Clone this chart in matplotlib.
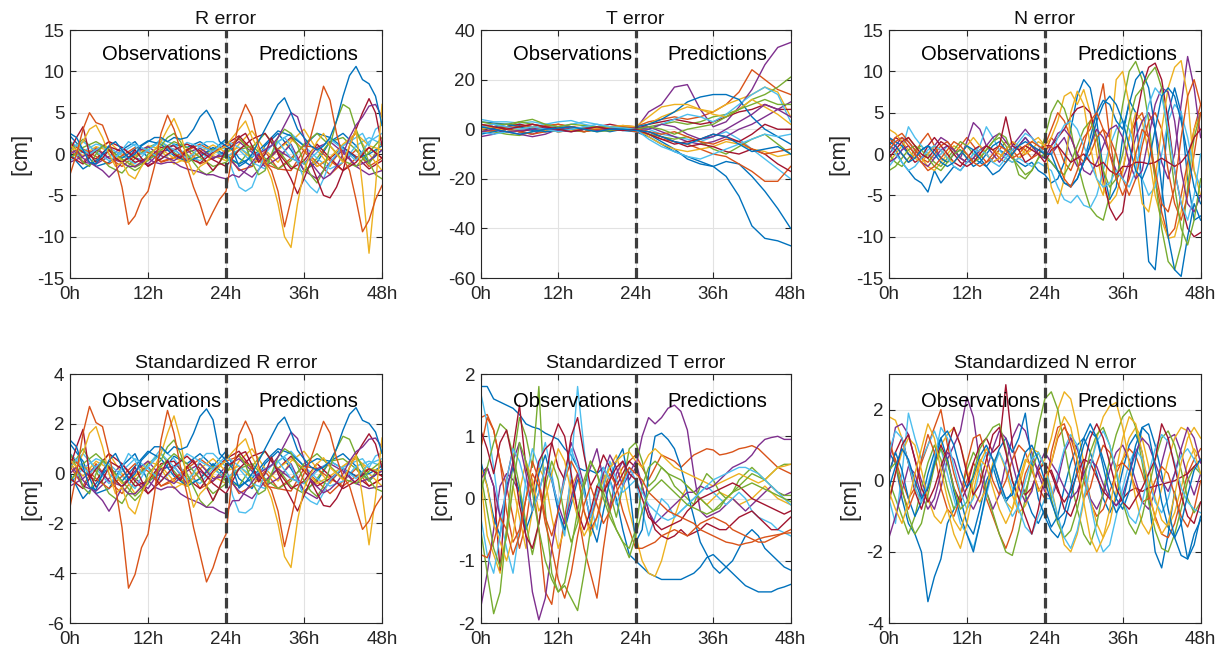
import numpy as np
import matplotlib
matplotlib.use("Agg")
import matplotlib.pyplot as plt

plt.rcParams['font.family'] = ['Liberation Sans', 'DejaVu Sans']
plt.rcParams['axes.unicode_minus'] = False

# ---------------- common axes data ----------------
HOURS_1H = list(range(0, 49))
HOURS_2H = list(range(0, 49, 2))
TICK_HOURS = [0, 12, 24, 36, 48]
TICK_LABELS = ["0h", "12h", "24h", "36h", "48h"]
SPLIT_HOUR = 24
PALETTE = {'blue': '#0072BD', 'orange': '#D95319', 'yellow': '#EDB120', 'purple': '#7E2F8E',
           'green': '#77AC30', 'cyan': '#4DBEEE', 'darkred': '#A2142F'}
CYCLE = ['blue', 'orange', 'yellow', 'purple', 'green', 'cyan', 'darkred']

# ---------------- R error (hourly, salient) ----------------
R_BLUE = [2.5,2,0.5,-1,-1.2,0,1,1.5,0.5,-0.5,0,1,1.5,2,2,1.5,2,1.8,2,3,4.5,5.3,4,1.5,1,0.5,-1.5,-1,0,1.5,3,4.5,6,6.8,5,3,2,1,0.5,1,2,4,7,9.5,10.6,9,8.5,7,3.5]
R_ORANGE = [-2.5,0,3,5,3.8,3.5,1.5,-1,-4,-8.5,-7.5,-5.5,-4.5,-1.5,2.5,4.7,3,0.5,-1.5,-4,-6,-8.6,-7,-5.5,-4.5,0,4,6,4.5,1,-1,-2,-4.5,-8.8,-5.5,-2,0,2,5,8.2,6.5,2.5,-0.5,-2,-5.5,-9.4,-8,-5.5,-3.8]
R_YELLOW = [1,0.5,1.5,3,3.5,2,0,-1.5,-1,-2.5,-3,-1.5,-0.5,0.5,1.5,3,4.3,2.5,-0.5,-2.5,-1.5,-1,0,0.5,1,2,3,4,2,0.5,-1,-3,-6,-10,-11.3,-6,-2,0,1.5,2.5,1,0,-1,1,3,-4,-12,-4,6]
R_PURPLE = [0,0.5,-0.5,-1,-1.5,-2,-2.8,-2,-1,-1.5,-1.5,-1,-0.5,-1,-1.2,-1,-1,-1.5,-1.8,-2,-2.2,-2.5,-2.5,-2.8,-3,-2.5,-2.8,-2,-1,0,0.5,1,2,3.5,5,4.5,2,-1,-2,-3,-2.5,-1.5,0,2,3.5,4.5,5.8,6,4.5]
R_DARKRED = [0.5,2,3.3,0,-1,-0.5,0.5,-0.5,-1,-0.5,0.5,-0.5,-1.5,-1,0,1,0,-0.5,0.5,1,0,-1,-2,-1,0.5,1,2,2.5,1,-1,0,2,0,-1.5,-3,-4.8,-3,-1,-3,-5,-5.3,-4,-2,1,3,5,6.7,5,1]
R_GREEN = [1.5,0.5,-1,-1.5,0,1,0.5,-0.5,-1,-1.5,-2,-1.5,0,0.5,1,2,2.5,1.5,0,-1,-2,-2.5,-2,-1,0,1,2,1,-1,-2.5,-2,0,2,3,2.5,1,-1,-2.5,-3.5,-2,1,4,6,5.5,3,1,-1,-2.5,-3]
R_CYAN = [1.5,1,0.5,0,0.5,1,0,-0.5,0.5,1.5,1,0,0.5,1,1.5,1,0.5,0,-0.5,0,1,1.5,1.5,1,0.5,-2,-4,-4.5,-4,-2,0,1,1.5,2,1,-1,-3,-4,-4.7,-3,-1,0,1,1.5,2,2.5,1,3,3.5]
# R error (2-hourly, bulk)
R_B01 = [2.2,0.5,-1.5,-1,0.5,1.5,-0.5,0,1.2,0.8,1.5,0.5,1.8,-0.5,-1.5,1,2.5,0.5,-2,-1,1.5,2.5,1,-1,0.5]
R_B02 = [0.5,-1,0.8,-0.5,-1.5,-0.2,0.5,-1,-0.5,0.6,-1.2,-0.5,0.2,-2,-1.5,0.3,-1.8,-2,0.5,-1,-2.5,-1,0.5,-1.5,-0.5]
R_B03 = [-0.5,0.5,0.2,1.5,0,-1.5,-0.3,0.4,-1.2,-0.5,0.7,-0.2,-0.8,1.2,2.8,0.5,-1,1.5,3,0.5,-1.5,1,2.5,0,-2]
R_B04 = [1,-1,-1.2,-0.3,0.8,-0.4,-1.2,0.3,0.6,-0.8,0.2,-0.6,0.5,1.5,0.2,-1.5,-0.5,1.2,-2,-3,-1,0.5,-1.5,-2.5,-2]
R_B05 = [0.3,1.8,0.2,-1.5,-2.3,-0.5,0.8,1.5,0.2,-1,-0.3,0.6,-0.5,-1.2,0.8,2.5,0.5,-1.5,-2.2,-0.5,1.5,2,0.5,-1.2,1.5]
R_B06 = [-0.8,0.3,1.2,0.8,-0.2,-1.2,0.5,1.8,1.2,-0.2,-0.8,0.4,-0.3,0.5,-1,-1.8,1.5,2.5,1,-0.5,-1.8,-1,1,2,1.2]
R_B07 = [1.5,0.2,-0.6,0.9,0.3,-1,-0.5,0.8,1,-0.4,-1.1,0.2,1.2,2.2,0.5,-0.8,0.6,2,0.4,-1.5,-0.5,0.8,-0.3,-1.8,-0.8]
R_B08 = [0,-1.8,-0.8,0.5,-0.5,0.6,1.6,1.2,-0.2,-0.9,-0.3,0.8,-0.2,-1.2,-0.4,1.2,2.8,2.2,1,2.5,2,0.8,-0.5,0,1]
R_B09 = [1.2,0.6,-0.3,-1.2,-0.2,0.8,0.2,-0.9,-0.4,0.4,1.2,0.3,0.9,1.8,0.6,-1.2,-1.8,-0.5,1,0.8,-0.8,-2,-0.5,0.8,-0.5]
R_B10 = [0.8,-0.2,0.9,0.4,-0.8,-0.2,1,0.6,-0.5,-1,0.3,1.1,0.2,0.8,-0.6,-1.2,0.5,1.8,0.5,-1.5,-0.4,1.2,2.5,1,0.5]
R_B11 = [-1,-0.3,0.6,-0.5,-1,0.2,0.9,-0.2,-0.8,0.2,0.7,-0.4,-0.2,-1.8,-2.8,-1,0.5,-0.5,-1.2,0.8,1.5,0.2,-1.5,-0.8,0.5]
R_B12 = [-0.5,0.8,1.5,0.6,-0.6,-1.6,-0.8,0.5,1.5,0.8,-0.4,-1.5,-1,0.5,1,-0.5,-1.8,-0.8,1.2,2.5,1,-0.8,-1.5,0.2,2]
R_B13 = [0.6,1.5,0.3,-0.8,0.2,1.2,0.4,-0.6,0.3,1.4,0.9,0.3,1.6,0.8,-0.3,0.6,1.5,-0.5,-1.2,0.2,1.8,0.6,-0.8,1.5,2.5]
R_B14 = [-0.3,-1.2,0.4,1.5,0.8,-0.5,-1.4,-0.6,0.5,1.2,0.4,-0.7,-1.5,0.5,1.8,2.5,0.2,-1.8,-0.8,1.2,-0.5,-2,-1,0.8,-0.5]

# ---------------- T error (2-hourly) ----------------
T_L01 = [3,2.5,2,1.5,1,0.5,1,0.5,0,-0.5,0,-0.5,-1,-3,-6,-9,-11,-13,-15,-19,-27,-39,-44,-45,-47]
T_L02 = [1,2,0.5,-1,0,1.5,2,1,0,1,0.5,1.5,1,3,4,5,4,5,7,10,15,24,20,16,14]
T_L03 = [-1,0,1,2,0.5,-0.5,1,0,-1,0,1,0.5,1,2,5,7,9,8,7,10,12,14,17,15,5]
T_L04 = [-3,-2,0,-1,-2,0,1,0,-1,0,0.5,1,0,7,10,17,18,8,1,3,9,16,26,33,35]
T_L05 = [0,-1,-2,-2.5,-1,0,-1,-0.5,-1,0,-0.5,0,0.5,1,2,3,2,3,5,6,8,12,14,17,21]
T_L06 = [4,3,3,2.5,3,2,3,3.5,2,1,1,1,0.5,0,-2,-3,-4,-5,-3,-1,-4,-8,-12,-16,-20]
T_L07 = [2,1,0,-1,0,1,0.5,1,0,1,2,1,0,2,3,4,3,2,3,5,7,8,10,8,8]
T_L08 = [-2,-1,0,1,-0.5,-1,0,-0.5,1,0,-1,0,0.5,-2,-5,-8,-12,-14,-15,-13,-14,-19,-25,-32,-40]
T_L09 = [0,1,0,-1,-2,-1,-0.5,0,-1,0,-0.5,0,-1,-2,-4,-5,-6,-8,-10,-11,-14,-17,-21,-21,-15]
T_L10 = [2,1,2,1,0,-1,0,1,0,-0.5,0,0,1,-3,-6,-8,-9,-8,-7,-5,-6,-8,-9,-11,-10]
T_L11 = [1,0,-1,-2,-3,-2,0,1,0,-0.5,0,0.5,0.5,1,-1,-3,-5,-6,-5,-3,0,2,5,8,11]
T_L12 = [1,0.5,1,3,2,1,0,-0.5,0,-1,-0.5,0,0,-2,-3,-4,-3,-5,-8,-10,-7,-4,-2,-6,-10]
T_L13 = [-1,-2,-1,0,1,2,1,2,3,2,1,0.5,0,0,2,4,6,5,3,6,10,14,17,14,3]
T_L14 = [0,0.5,1,2,1,0,-1,-0.5,0,1,1,0.5,0,-1,-3,-5,-7,-6,-7,-9,-10,-8,-10,-14,-17]
T_L15 = [0,1,2,1,0,-1,-0.5,0,0.5,1,0,0.5,1,2,4,7,11,13,14,14,12,5,0,-3,-6]
T_L16 = [-1,-0.5,0.5,1,2,1,2,1,0.5,0,0.5,1,0.5,-1,-2,-1,-3,-5,-6,-4,-5,-8,-10,-9,-8]
T_L17 = [0,1,-1,0,1,0,-1,-0.5,0,0.5,1,1.5,1,5,9,10,10,8,6,5,8,12,9,6,2]
T_L18 = [-1,0,-1,-0.5,0,0.5,-0.5,-1,0,1,0,0,0.5,0,2,1,-2,-4,-3,0,3,6,10,8,5]
T_L19 = [3,2,2,3,4,2,1,2,1.5,1,1,0.5,0,1,0,-2,0,1,2,5,8,10,12,10,10]
T_L20 = [1,2,1,0,1,0,-1,0,1,2,1,0.5,0,-4,-7,-9,-11,-12,-10,-8,-6,-4,-2,-3,-2]
T_L21 = [2,1,0,1,2,1,0,-1,0,1,0,-0.5,0,-2,-4,-6,-5,-4,-2,-3,-5,-2,2,0,0]
T_L22 = [1,0,-1,-2,-1,0,0.5,1,0,-1,0,0,-0.5,-1,-3,-5,-6,-4,-2,-3,-6,-9,-8,-7,-10]

# ---------------- N error (hourly) ----------------
N_L01 = [1,0.5,-1,-2,-3,-3.5,-4.6,-2,-3.5,-2.5,-1.5,-2,-1,-0.5,-1,-1.5,-0.5,0.5,0,-0.5,-1,-1.5,-1,-2,-2.5,-3.5,-3,-1,3,7,9,8,4,-2,-5.5,-4,2,6.5,5,-4,-13,-14,-6,5,8,5,-3,-8,-7.5]
N_L02 = [2,1.5,1,0,-0.5,0.5,1,0.5,-0.5,-1,0,0.5,-0.5,-1.5,-1,0,1,1.5,0.5,0,1,2,1,0,-0.5,-1,-2,-3.5,-4,-3,-1,2,5,6.5,6,4,3,6,9,10,8,3,-4,-10,-14,-14.8,-10,-6,-8]
N_L03 = [0,-1,-1.5,-0.5,0.5,1,0,-1,-1.5,-0.5,0.5,1.5,1,0,-0.5,0.5,1.5,2,1,-0.5,-1.5,-2.5,-2,-0.5,2,5,6.5,5.5,3,-1,-4,-6.5,-7.5,-8,-5,1,6,10,11.2,9,4,-3,-9,-13,-14,-11,-4,2,5]
N_L04 = [3,2.5,1.5,0.5,-0.5,-1,0,1,0.5,-0.5,-1,0,1,2,1,0,-1,-0.5,0.5,1.5,1,0,0.5,1.5,1,-4,-6,-3,5,7.6,6,1,-3,-5,1,9,10,6,-1,-6,-7,-3,3,8,10.5,11.3,7,-2,-5]
N_L05 = [-1,0,1,2,1,-0.5,-1.5,-2,-1,0,1,0.5,-0.5,-1,0,1,0.5,0,-0.5,-1,-0.5,0.5,1.5,2,1,2,4,7,7.5,6,7.8,5,0,-4,-6,-5,-2,2,5,4,0,-5,-8,-10.2,-10,-7,-2,3,5]
N_L06 = [2,1,0,-1,0,1.5,2.5,1,-0.5,-1,0,1,2,1,0,-1,-0.5,0.5,1.5,0.5,-0.5,0,1,0.5,0,2,1,-1,-2,0,2,3,5,8.5,2,-3,-2,2,4,5,2,-3,-7,-10,-9,-5,-1,3,6]
N_L07 = [1,2,1.5,0,-1,-0.5,1,2,1,0,-1,-1.5,-0.5,0.5,1,0,-1,-0.5,0.5,1.5,0.5,-1,-0.5,0.5,1,1,2,3,4.5,5.5,5.8,5,2,-3,-6.5,-8,-7,-2,4,8,10.5,11,9,4,-2,-6,-9,-10,-9.5]
N_L08 = [0,1,2,1.5,0.5,-0.5,0,1,2,1.5,0.5,-0.5,1.5,3.8,3,1,0,-1,0,1,2,3,2,1,0,0,1,2,0,-1.5,-1,1,3,2,0,-2,-3,-1,2,4,5,3,-1,-3,0,6,11.8,8,2]
N_L09 = [-1,-0.5,0.5,1,0,-1,-1.5,-0.5,0.5,1,0.5,-0.5,-1,-0.5,0.5,1,2,2.5,1.5,0.5,1,2,1,0,-0.5,1,2.5,3,2,0,-2,-2.5,-1,1,3,3.5,2,-1,-3,-2,2,6,8,7.5,4,-2,-6,-7,-5]
N_L10 = [-1.5,-0.5,0.5,3.3,2,1,0,-0.5,0,1,0.5,-0.5,-1,0,1,3.3,2,0.5,-0.5,-1,-0.5,-1,-1.5,-1,-1.5,-2,-4,-5.5,-5.9,-5,-6.2,-6.5,-5,-2,1,3,4,3,0,-3,-5,-4,0,4,6,5,2,-2,-4]
N_L11 = [1,0,-1,-2,-1.5,-0.5,0.5,1,0.5,-0.5,-1.5,-2,-1,0,0.5,0,-1,-1.5,-0.5,0.5,1.5,2.5,2,1,0,0,2,3.5,4,3,1,-1,-3,-4,-3.5,-2,-3,-4,-2,2,6,8,7,3,-2,-6,-8,-5,0]
N_L12 = [-2,-1.5,-0.5,0.5,1,0.5,-0.5,-1.5,-2,-1,0,0.5,0,-1,-0.5,0.5,1.5,2.5,2,0,-2.5,-3,-2,-0.5,0,-1,-2,-2.5,-1,1,3,4,2,-2,-4,-3,0,4,7,8,9.5,10.5,8,2,-4,-9,-11,-8,-3]
N_L13 = [1,2,2.5,1.5,0.5,-0.5,-1,0,1,1.5,0.5,-0.5,-1,-0.5,0.5,1,0.5,-0.5,-1,0,1,0.5,-0.5,0,1,3,5,4,2,0,-1,0,2,3,2,0,-3,-5,-3,1,4,5,3,-2,-6,-8,-5,0,5]
N_L14 = [-0.5,0.5,1.5,2,1,0,-0.5,0.5,1.5,1,0,-1,-1.5,-1,0,1,0.5,1,4.5,1,0.5,1,0.5,0,-1,0.5,1,0,-1,-0.5,0,-1,-1.5,-1,-2,-2.5,-1.5,-1.5,-1,-1,-1.2,-1,-0.5,-1,-1.5,-1,0,2,3]
N_L15 = [1.5,1,0,-1,-0.5,0.5,1,0,-1,-1.5,-1,0,1,0.5,-0.5,-1.5,-2.5,-2,-1,0,1,1.5,1,0.5,0,0,-2,-3.5,-3.8,-3,-1,1,4,6,7,6,4,1,-2,-3,-1,3,7,8,7,4,0,-4,-6]
N_L16 = [0.5,1.5,2,1,0,-1,-2,-1.5,-0.5,0.5,1.5,1,0,-1,-1.5,-1,0,1,0.5,-0.5,0,1,1.5,1,0.5,1,-1,-3,-4,-2,1,4,5,3,0,-3,-5,-3,0,3,2,-2,-6,-7,-4,2,7,9,6]

# ---------------- Standardized R error ----------------
SR_BLUE = [1.35,1.08,0.27,-0.54,-0.65,0,0.54,0.81,0.27,-0.27,0,0.54,0.81,1.08,1.08,0.81,1.08,0.97,1.08,1.62,2.3,2.6,2.16,0.81,0.54,0.22,-0.58,-0.35,0,0.5,1,1.5,2,2.27,1.67,0.94,0.59,0.28,0.13,0.26,0.5,1,1.75,2.38,2.65,2.14,2.02,1.67,0.83]
SR_ORANGE = [-1.35,0,1.62,2.7,2.05,1.89,0.81,-0.54,-2.16,-4.6,-4.05,-2.97,-2.43,-0.81,1.35,2.54,1.62,0.27,-0.81,-2.16,-3.24,-4.35,-3.78,-2.97,-2.43,0,1.54,2.11,1.55,0.33,-0.33,-0.67,-1.5,-2.93,-1.83,-0.63,0,0.56,1.32,2.1,1.63,0.63,-0.13,-0.5,-1.38,-2.24,-1.9,-1.31,-0.9]
SR_YELLOW = [0.54,0.27,0.81,1.62,1.89,1.08,0,-0.81,-0.54,-1.35,-1.62,-0.81,-0.27,0.27,0.81,1.62,2.32,1.35,-0.27,-1.35,-0.81,-0.54,0,0.27,0.54,0.87,1.15,1.4,0.69,0.17,-0.33,-1,-2,-3.33,-3.77,-1.88,-0.59,0,0.39,0.64,0.25,0,-0.25,0.25,0.75,-0.95,-2.86,-0.95,1.43]
SR_PURPLE = [0,0.27,-0.27,-0.54,-0.81,-1.08,-1.51,-1.08,-0.54,-0.81,-0.81,-0.54,-0.27,-0.54,-0.65,-0.54,-0.54,-0.81,-0.97,-1.08,-1.19,-1.35,-1.35,-1.51,-1.62,-1.09,-1.08,-0.7,-0.34,0,0.17,0.33,0.67,1.17,1.67,1.41,0.59,-0.28,-0.53,-0.77,-0.63,-0.38,0,0.5,0.88,1.07,1.38,1.43,1.07]
SR_DARKRED = [0.27,1.08,1.78,0,-0.54,-0.27,0.27,-0.27,-0.54,-0.27,0.27,-0.27,-0.81,-0.54,0,0.54,0,-0.27,0.27,0.54,0,-0.54,-1.08,-0.54,0.27,0.43,0.77,0.88,0.34,-0.33,0,0.67,0,-0.5,-1,-1.5,-0.88,-0.28,-0.79,-1.28,-1.33,-1,-0.5,0.25,0.75,1.19,1.6,1.19,0.24]
SR_GREEN = [0.81,0.27,-0.54,-0.81,0,0.54,0.27,-0.27,-0.54,-0.81,-1.08,-0.81,0,0.27,0.54,1.08,1.35,0.81,0,-0.54,-1.08,-1.35,-1.08,-0.54,0,0.43,0.77,0.35,-0.34,-0.83,-0.67,0,0.67,1,0.83,0.31,-0.29,-0.69,-0.92,-0.51,0.25,1,1.5,1.38,0.75,0.24,-0.24,-0.6,-0.71]
SR_CYAN = [0.81,0.54,0.27,0,0.27,0.54,0,-0.27,0.27,0.81,0.54,0,0.27,0.54,0.81,0.54,0.27,0,-0.27,0,0.54,0.81,0.81,0.54,0.27,-0.87,-1.54,-1.58,-1.38,-0.67,0,0.33,0.5,0.67,0.33,-0.31,-0.88,-1.11,-1.24,-0.77,-0.25,0,0.25,0.38,0.5,0.6,0.24,0.71,0.83]
SR_B01 = [1.2,0.5,-0.8,-0.6,0.3,0.8,-0.3,0,0.7,0.4,0.8,0.3,0.9,-0.2,-0.6,0.4,0.9,0.2,-0.7,-0.3,0.5,0.8,0.3,-0.3,0.2]
SR_B02 = [0.3,-0.5,0.4,-0.3,-0.8,-0.1,0.3,-0.5,-0.3,0.3,-0.6,-0.3,0.1,-0.8,-0.5,0.1,-0.6,-0.7,0.2,-0.3,-0.8,-0.3,0.2,-0.5,-0.2]
SR_B03 = [-0.3,0.3,0.1,0.8,0,-0.8,-0.2,0.2,-0.6,-0.3,0.4,-0.1,-0.4,0.5,1,0.2,-0.3,0.5,0.9,0.2,-0.4,0.3,0.7,0,-0.5]
SR_B04 = [0.5,-0.5,-0.7,-0.2,0.4,-0.2,-0.6,0.2,0.3,-0.4,0.1,-0.3,0.3,0.6,0.1,-0.5,-0.2,0.4,-0.7,-1,-0.3,0.2,-0.4,-0.6,-0.5]
SR_B05 = [0.2,1,0.1,-0.8,-1.2,-0.3,0.4,0.8,0.1,-0.5,-0.2,0.3,-0.3,-0.5,0.3,0.9,0.2,-0.5,-0.8,-0.2,0.5,0.6,0.2,-0.3,0.4]
SR_B06 = [-0.4,0.2,0.6,0.4,-0.1,-0.6,0.3,1,0.6,-0.1,-0.4,0.2,-0.2,0.2,-0.4,-0.6,0.5,0.9,0.3,-0.2,-0.5,-0.3,0.3,0.5,0.3]
SR_B07 = [0.8,0.1,-0.3,0.5,0.2,-0.5,-0.3,0.4,0.5,-0.2,-0.6,0.1,0.6,0.9,0.2,-0.3,0.2,0.7,0.1,-0.5,-0.2,0.2,-0.1,-0.5,-0.2]
SR_B08 = [0,-1,-0.4,0.3,-0.3,0.3,0.9,0.6,-0.1,-0.5,-0.2,0.4,-0.1,-0.5,-0.2,0.5,1,0.8,0.3,0.6,0.5,0.2,-0.1,0,0.3]
SR_B09 = [0.6,0.3,-0.2,-0.6,-0.1,0.4,0.1,-0.5,-0.2,0.2,0.6,0.2,0.5,0.7,0.2,-0.5,-0.6,-0.2,0.3,0.2,-0.2,-0.5,-0.1,0.2,-0.1]
SR_B10 = [0.4,-0.1,0.5,0.2,-0.4,-0.1,0.5,0.3,-0.3,-0.5,0.2,0.6,0.1,0.3,-0.2,-0.4,0.2,0.6,0.2,-0.4,-0.1,0.3,0.6,0.2,0.1]
SR_B11 = [-0.5,-0.2,0.3,-0.3,-0.5,0.1,0.5,-0.1,-0.4,0.1,0.4,-0.2,-0.1,-0.7,-1,-0.3,0.2,-0.2,-0.4,0.2,0.4,0.1,-0.4,-0.2,0.1]
SR_B12 = [-0.3,0.4,0.8,0.3,-0.3,-0.9,-0.4,0.3,0.8,0.4,-0.2,-0.8,-0.4,0.2,0.4,-0.2,-0.6,-0.3,0.4,0.8,0.3,-0.2,-0.4,0.1,0.5]
SR_B13 = [0.3,0.8,0.2,-0.4,0.1,0.6,0.2,-0.3,0.2,0.8,0.5,0.2,0.7,0.3,-0.1,0.2,0.5,-0.2,-0.4,0.1,0.5,0.2,-0.2,0.4,0.6]
SR_B14 = [-0.2,-0.6,0.2,0.8,0.4,-0.3,-0.8,-0.3,0.3,0.7,0.2,-0.4,-0.8,0.2,0.7,0.9,0.1,-0.6,-0.3,0.4,-0.1,-0.6,-0.3,0.2,-0.1]

# ---------------- Standardized T error (hourly) ----------------
ST_L01 = [1.8,1.8,1.6,1.55,1.5,1.45,1.35,1.2,1.15,1.12,1.05,1,0.95,0.8,0.7,0.5,0.45,0.45,0.4,0.5,0.3,0,-0.5,-0.9,-1,-1.1,-1.2,-1.25,-1.3,-1.3,-1.3,-1.3,-1.25,-1.2,-1.1,-0.95,-0.9,-1,-1.1,-1.2,-1.3,-1.4,-1.45,-1.5,-1.5,-1.5,-1.45,-1.42,-1.38]
ST_L02 = [-1.75,-1.2,-0.5,0.2,0.4,0.3,0.1,-0.6,-1.5,-1.95,-1.6,-0.8,-0.2,0.4,0.9,0.6,0.2,0.5,0.8,0.3,-0.2,0.4,0.6,0.3,0.5,1,1.3,1.2,1.3,1.45,1.5,1.4,1.1,0.4,-0.2,-0.3,-0.25,-0.2,-0.1,0,-0.1,-0.2,-0.1,0,0.1,0.2,0.1,0.05,0.1]
ST_L03 = [0.3,0.5,0.2,-0.3,0.1,0.6,0.9,0.4,-0.2,0.1,0.5,0.3,-0.1,-0.4,0,0.4,0.1,-0.3,0,0.4,0.7,0.5,0.2,0.4,0.6,0.2,-0.2,-0.4,-0.3,-0.2,-0.1,0,0.1,0.1,0.2,0.15,0.2,0.3,0.4,0.5,0.55,0.6,0.7,0.85,0.95,0.98,1,0.95,0.95]
ST_L04 = [-0.5,-1.2,-1.85,-1.5,-0.5,0.6,1.3,1,0.5,1.8,-0.2,-1.2,-1.5,-1.4,-1.6,-1.8,-1.2,-0.5,0.2,0.4,0.1,-0.3,0.2,0.8,0.9,0.6,0.2,0.3,0.5,0.4,0.2,0.1,0,-0.1,0.2,0.4,0.3,0.1,0,0.1,0.3,0.4,0.5,0.4,0.3,0.4,0.5,0.55,0.55]
ST_L05 = [1.3,1.35,1.1,0.6,0.2,-0.3,-0.8,-0.4,0.3,-0.5,-1.5,-1.7,-1,-0.3,0.3,-0.2,-0.8,-1.2,-1.6,-0.8,-0.1,0.3,0.5,0.6,0.7,0.5,0.3,0.5,0.7,0.65,0.6,0.5,0.6,0.7,0.75,0.8,0.78,0.7,0.72,0.75,0.8,0.82,0.85,0.8,0.7,0.6,0.5,0.45,0.4]
ST_L06 = [1.7,1.2,0.5,-0.3,-0.8,-1.2,-0.5,0.3,0.8,0.5,0.9,0.4,-0.2,-0.6,0.5,1.8,0.8,-0.1,-0.5,0.2,0.6,0.3,0.1,0.2,0.3,-0.2,-0.6,-0.3,0,-0.1,-0.3,-0.2,-0.1,0,0.1,0.2,0.1,0,-0.1,0,0.1,0,-0.2,-0.3,-0.35,-0.4,-0.5,-0.55,-0.6]
ST_L07 = [0.4,0.5,0.2,-1.15,0.3,0.8,1.5,0.5,0.1,0.6,0.8,0.9,0.5,0.3,1,1.3,0.7,0.2,0.4,0.7,0.5,0.2,0.4,0.6,0.5,0.2,-0.2,-0.5,-0.6,-0.65,-0.6,-0.5,-0.6,-0.55,-0.5,-0.4,-0.45,-0.5,-0.5,-0.4,-0.3,-0.25,-0.2,-0.3,-0.4,-0.5,-0.5,-0.4,-0.3]
ST_L08 = [0.6,0.2,-0.3,-0.6,0.2,0.5,0.1,-0.5,-0.2,0.4,0.7,0.3,-0.2,-0.5,-0.1,0.3,0.2,-0.4,-0.7,-0.2,0.3,0.6,0.8,0.2,-0.7,-0.5,0.4,1,1.05,0.95,0.8,0.5,0.1,-0.3,-0.7,-0.9,-1.1,-1.2,-1.1,-1,-0.8,-0.6,-0.5,-0.6,-0.8,-0.9,-1,-1.1,-1.15]
ST_L09 = [0.3,-0.6,-0.9,-1.2,-0.5,0.2,-0.3,-0.8,-0.2,0.5,0.3,-0.3,-0.8,-0.5,0.2,0.4,-0.2,-0.6,-0.3,0.2,0.5,0.7,0.3,-0.2,-0.6,-1,-1.2,-1.25,-1,-0.6,-0.3,0,0.2,0.1,0,-0.1,0,0.1,0.05,0,-0.1,-0.05,0,0.1,0.2,0.1,0,-0.05,-0.1]
ST_L10 = [0.1,0.5,0.9,1.2,1.1,0.7,0.2,-0.4,-0.9,-0.4,0.2,0.6,0.3,-0.3,-0.7,-0.4,0.2,0.6,0.4,0,-0.3,-0.5,-0.7,-0.8,-0.5,0.2,0.5,0.6,0.5,0.4,0.35,0.3,0.2,0.1,0,-0.1,-0.2,-0.15,0,0.1,0.2,0.3,0.4,0.35,0.3,0.2,0.1,0.05,0.05]
ST_L11 = [0.8,1.3,1.1,0.6,-0.2,-0.7,-0.5,0,0.6,0.3,-0.3,-0.6,-0.2,0.3,0.6,0.4,-0.2,-0.5,-0.3,0.1,0.4,0.2,-0.2,-0.5,-0.8,-0.8,-0.75,-0.7,-0.6,-0.55,-0.5,-0.55,-0.6,-0.5,-0.4,-0.35,-0.3,-0.35,-0.4,-0.5,-0.55,-0.6,-0.65,-0.7,-0.7,-0.65,-0.6,-0.55,-0.5]
ST_L12 = [-0.3,-0.9,-1.2,-0.6,0.3,0.8,0.6,0.2,-0.2,0.1,0.5,0.3,-0.1,0.3,0.8,0.5,0.1,-0.3,0.1,0.5,0.3,-0.1,0.2,0.5,0.3,0.1,-0.1,-0.2,-0.3,-0.35,-0.3,-0.2,-0.1,0,0.1,0.2,0.3,0.35,0.4,0.45,0.5,0.5,0.45,0.4,0.3,0.2,0.1,0,-0.1]
ST_L13 = [1.1,0.8,0.4,0.9,1.1,0.6,-0.1,-0.6,-0.8,-0.4,0.3,0.9,1.2,1,0.4,-0.2,-0.5,-0.2,0.2,0.1,0.3,0.5,0.6,0.4,0.3,0,-0.3,-0.4,-0.5,-0.45,-0.4,-0.35,-0.2,-0.1,0,0.05,0.1,0.15,0.2,0.25,0.2,0.1,0,-0.05,-0.1,-0.15,-0.2,-0.25,-0.2]
ST_L14 = [0.5,0.2,-0.4,-0.7,-1,-0.6,0.1,0.6,0.3,-0.2,0,0.4,0.8,0.6,0.1,-0.3,-0.6,-0.4,0,0.3,0.5,0.6,0.7,0.75,0.6,0.5,0.7,0.8,0.7,0.6,0.5,0.45,0.4,0.35,0.3,0.25,0.2,0.25,0.3,0.35,0.4,0.35,0.3,0.25,0.3,0.4,0.5,0.52,0.55]
ST_L15 = [-0.9,-0.95,-0.7,-0.3,-0.5,-0.9,-0.6,0,0.4,0.2,-0.4,-0.8,-1.3,-1.6,-1.2,-0.6,-0.1,0.2,-0.1,-0.4,-0.2,0.1,0.3,0.5,0.4,0.3,0.1,0,-0.1,-0.2,-0.25,-0.3,-0.35,-0.4,-0.5,-0.55,-0.6,-0.65,-0.7,-0.72,-0.75,-0.72,-0.7,-0.65,-0.62,-0.6,-0.58,-0.56,-0.55]
ST_L16 = [0.4,-0.2,-0.8,-1.1,-0.6,0.2,0.9,0.6,0.1,-0.5,-1,-1.3,-1.5,-1.35,-0.8,-0.2,0.3,0.6,0.4,0.1,-0.2,-0.5,-0.7,-0.95,-0.6,-0.2,0.1,0.2,0.3,0.2,0.1,0,-0.1,-0.15,-0.2,-0.25,-0.2,-0.1,0,0.1,0.15,0.2,0.25,0.2,0.15,0.1,0.05,0,-0.05]

# ---------------- Standardized N error (hourly) ----------------
SN_L01 = [0.8,0.5,-0.5,-1.2,-1.5,-2,-3.4,-2.7,-2.2,-1.2,-0.8,-0.5,-1.2,-1.5,-0.8,0,0.4,-0.2,-0.6,-0.3,0.2,-0.4,-0.9,-1.2,-0.8,-1.3,-1,-0.2,0.5,1,1.2,0.8,0.2,-0.5,-0.9,-0.5,0.3,1,1.3,0.8,-0.5,-2,-2.45,-1.5,-0.3,-1.2,-2.2,-1.8,-1]
SN_L02 = [0.2,0.8,1.2,0.5,-0.3,-0.8,-0.2,0.5,1,0.6,-0.2,-0.6,-0.2,0.5,1,1.2,0.8,1,2.7,1,0.2,-0.4,-0.2,0.3,0.5,0.2,-0.3,-0.6,-0.3,0.2,0.6,0.5,0.1,-0.3,-0.5,-0.7,-0.5,-0.3,-0.2,-0.3,-0.2,-0.15,-0.1,-0.05,0,0.1,0.2,0.4,0.6]
SN_L03 = [0.5,1.5,1.6,1.3,0.6,0,-0.5,-0.8,-0.2,0.6,1,1.4,2.35,1.8,0.5,-0.3,-0.8,-0.4,0.5,1.2,1.6,1.4,0.8,0.2,-0.3,-0.5,0,0.8,1.2,0.9,0.2,-0.5,-0.8,-0.4,0.3,0.8,1,0.6,0,-0.6,-0.8,-0.3,0.5,1.2,1.3,0.8,0.1,-0.4,0.2]
SN_L04 = [0,-0.5,-1,-1.5,-1,-0.2,0.5,1,0.6,-0.2,-0.8,-0.4,0.3,0.8,0.5,-0.3,-0.9,-1.5,-2,-2.1,-1.4,-0.5,0.5,1.5,2.3,2.5,2,1,0,-0.8,-1.5,-1.8,-1.2,-0.3,0.6,1.3,1.8,2,1.5,0.5,-0.6,-1.4,-1.9,-2,-1.5,-0.8,0,0.4,0.2]
SN_L05 = [1.8,1.7,1.2,0.5,-0.2,-0.6,-0.2,0.5,1,1.3,1.5,1,0.3,-0.3,-0.6,-0.2,0.5,0.8,0.3,-0.4,-0.9,-0.7,-0.2,0.3,0.6,1.2,2,2.5,2.3,1.5,0.5,-0.5,-1.2,-1.6,-1.2,-0.3,0.6,1.2,1.5,1.2,0.4,-0.5,-1.1,-1.3,-0.9,-0.2,0.5,0.9,0.6]
SN_L06 = [-0.5,0.2,0.8,1.2,1,0.3,-0.5,-1,-1.2,-0.8,-1.5,-1.9,-1.2,-0.3,0.5,0.9,0.6,0,-0.6,-0.8,-0.2,0.5,0.9,0.8,0.4,-0.2,-1,-1.8,-2,-1.5,-0.6,0.4,1.2,1.8,2.1,2.2,1.5,0.5,-0.5,-1.2,-1.5,-1,-0.2,0.6,1.2,1.5,1.4,0.8,0.2]
SN_L07 = [1,0.6,0,-0.5,-0.2,0.5,1,1.5,2,1,0.2,-0.4,0,0.5,0.2,-0.5,-1,-1.5,-1.9,-1.4,-0.6,0.2,0.6,0.3,-0.1,0.5,1.2,1.5,1.2,0.6,0,-0.6,-1,-0.8,-0.3,0.2,0.6,0.9,0.7,0.2,-0.4,-1,-1.5,-1.6,-1.2,-0.5,0.2,0.6,0.9]
SN_L08 = [-0.5,-1.2,0.2,1.9,1.2,0.6,1,1.4,0.9,0.2,-0.5,-1.2,-1.5,-1.9,-1.2,-0.4,0.3,0.8,0.4,-0.2,-0.8,-1.3,-1.5,-1,-0.5,-0.5,0.2,0.9,1.3,1,0.3,-0.6,-1.5,-2,-1.8,-1,-0.2,0.5,0.9,0.6,0,-0.6,-0.9,-0.5,0.2,0.7,0.9,0.6,0.2]
SN_L09 = [0.2,0.8,0.3,-0.5,-1,-0.6,0.2,0.8,1.2,0.6,-0.3,-1,-1.5,-2,-1.2,-0.3,0.4,0.9,1.2,0.8,1.2,1.9,0.5,-0.5,-1,-1.4,-1.6,-1.2,-0.5,0.3,1,1.4,1.2,0.6,0,-0.5,-0.8,-0.3,0.6,1.5,1.6,1,0.2,-0.8,-1.6,-2.1,-2.2,-1.5,-1.1]
SN_L10 = [0.3,0.5,-0.2,-1,-1.5,-1.2,-0.4,0.4,0.9,0.5,-0.2,-0.8,-0.6,0.2,0.9,1.2,1.5,1.6,0.9,0,-0.5,-0.3,0.3,0.8,0.4,-0.5,-1.2,-1.6,-1.4,-0.8,0,0.8,1.3,1.5,1,0.2,-0.6,-1.2,-1.5,-1,-0.2,0.6,1.2,1.4,1,0.3,-0.5,-0.9,-0.6]
SN_L11 = [-1.6,-1,-0.3,0.4,0.2,-0.4,-0.8,-0.5,0.2,0.8,0.6,0,-0.5,-0.8,-0.4,0.3,0.9,1.4,1.2,0.5,-0.2,-0.6,-0.3,0.4,0.8,0.5,0.2,-0.2,-0.5,-0.3,0.2,0.6,0.4,-0.1,-0.5,-0.7,-0.4,0.2,0.8,1.2,1,0.5,0,-0.3,0.2,0.9,1.5,1.2,0.5]
SN_L12 = [1.2,0.5,-0.3,-0.8,-0.3,0.6,1.3,0.8,-0.2,-0.8,-1,-0.5,0.5,1.2,1.3,0.7,0,-0.4,0,0.6,1,0.8,0.3,-0.2,-0.5,0.8,1.5,1.6,1,0.2,-0.5,-0.2,0.5,1,0.8,0.4,0.5,0.3,-0.2,-0.6,-0.5,0,0.4,0.2,-0.4,-1,-1.3,-0.8,0]
SN_L13 = [-0.6,0.2,1,1.3,0.6,-0.2,-0.6,-0.2,0.4,0.9,1.5,1,0.2,-0.4,-0.1,0.6,1.3,1.5,0.8,0,-0.5,-1,-1.5,-0.8,0.2,0.3,-0.2,-0.8,-1,-0.5,0.4,1.2,1.6,1.2,0.5,-0.2,-0.6,-0.8,-0.5,-0.2,0.2,0.6,1.6,1.2,0.4,-0.4,-1,-1.2,-0.6]
SN_L14 = [0.8,1.4,1.2,0.5,-0.2,-0.6,-0.1,0.6,1.5,1.2,0.4,-0.3,-0.8,-0.5,0.3,0.8,0.6,0,-0.6,-1,-0.7,0,0.6,0.8,0.4,-0.3,-1,-1.6,-1.9,-1.4,-0.5,0.4,1.1,1.4,1,0.3,-0.5,-1,-1.2,-0.6,0.2,0.9,1.3,1.1,0.5,-0.2,-0.6,-0.8,-0.9]
SN_L15 = [-0.3,-0.8,-1.2,-0.6,0.2,0.9,1.6,1.2,0.3,-0.5,-1.1,-1.4,-0.8,0,0.6,0.4,-0.2,-0.8,-1.2,-0.8,0,0.6,0.4,-0.3,0,0.5,1.3,1.8,1.5,0.6,-0.6,-1.6,-2,-1.6,-0.8,0.3,1.2,1.8,1.6,0.8,-0.2,-1.1,-1.5,-1.2,-0.4,0.5,1.2,1.5,1.2]
SN_L16 = [-0.2,0.4,0.9,0.6,0,-0.5,-0.2,0.5,1.2,1.4,1,0.3,-0.2,0.1,0.7,1,0.6,0,-0.5,-0.4,0.2,0.8,1,0.6,0,-0.6,-1.1,-0.9,-0.2,0.6,1.2,1.6,1.2,0.4,-0.4,-0.9,-0.6,0.2,1,1.5,1.3,0.4,-0.6,-1.3,-1.6,-1.2,-0.4,0.3,0.6]


def cyc(series):
    return [(s, CYCLE[i % 7]) for i, s in enumerate(series)]


PANELS = [
    ("R error", (-15, 15), list(range(-15, 16, 5)), -0.125, 0.90,
     cyc([R_B01, R_B02, R_B03, R_B04, R_B05, R_B06, R_B07, R_B08, R_B09, R_B10, R_B11, R_B12, R_B13, R_B14])
     + [(R_CYAN, 'cyan'), (R_GREEN, 'green'), (R_DARKRED, 'darkred'), (R_PURPLE, 'purple'),
        (R_YELLOW, 'yellow'), (R_BLUE, 'blue'), (R_ORANGE, 'orange')]),
    ("T error", (-60, 40), list(range(-60, 41, 20)), -0.135, 0.90,
     cyc([T_L01, T_L02, T_L03, T_L04, T_L05, T_L06, T_L07, T_L08, T_L09, T_L10, T_L11,
          T_L12, T_L13, T_L14, T_L15, T_L16, T_L17, T_L18, T_L19, T_L20, T_L21, T_L22])),
    ("N error", (-15, 15), list(range(-15, 16, 5)), -0.128, 0.90,
     cyc([N_L01, N_L06, N_L05, N_L08, N_L03, N_L10, N_L07, N_L02, N_L13, N_L04, N_L09,
          N_L12, N_L11, N_L14, N_L15, N_L16])),
    ("Standardized R error", (-6, 4), list(range(-6, 5, 2)), -0.093, 0.888,
     cyc([SR_B01, SR_B02, SR_B03, SR_B04, SR_B05, SR_B06, SR_B07, SR_B08, SR_B09, SR_B10, SR_B11, SR_B12, SR_B13, SR_B14])
     + [(SR_CYAN, 'cyan'), (SR_GREEN, 'green'), (SR_DARKRED, 'darkred'), (SR_PURPLE, 'purple'),
        (SR_YELLOW, 'yellow'), (SR_BLUE, 'blue'), (SR_ORANGE, 'orange')]),
    ("Standardized T error", (-2, 2), list(range(-2, 3, 1)), -0.096, 0.888,
     [(ST_L01, 'blue'), (ST_L05, 'orange'), (ST_L09, 'yellow'), (ST_L02, 'purple'), (ST_L04, 'green'),
      (ST_L06, 'cyan'), (ST_L07, 'darkred'), (ST_L08, 'blue'), (ST_L11, 'orange'), (ST_L14, 'yellow'),
      (ST_L03, 'purple'), (ST_L10, 'green'), (ST_L12, 'cyan'), (ST_L13, 'darkred'), (ST_L15, 'orange'),
      (ST_L16, 'green')]),
    ("Standardized N error", (-4, 3), [-4, -2, 0, 2], -0.093, 0.888,
     [(SN_L01, 'blue'), (SN_L07, 'orange'), (SN_L05, 'yellow'), (SN_L03, 'purple'), (SN_L04, 'green'),
      (SN_L08, 'cyan'), (SN_L02, 'darkred'), (SN_L09, 'blue'), (SN_L12, 'orange'), (SN_L06, 'yellow'),
      (SN_L11, 'purple'), (SN_L10, 'green'), (SN_L14, 'cyan'), (SN_L13, 'darkred'), (SN_L16, 'blue'),
      (SN_L15, 'yellow')]),
]

LEFTS = [0.05705, 0.3918, 0.7245]
WIDTHS = [0.2543, 0.2526, 0.2540]
BOTTOMS = [0.5781, 0.0546]
HEIGHTS = [0.3763, 0.3778]

fig = plt.figure(figsize=(12.27, 6.59), dpi=100)
for k, (title, ylim, yticks, ylab_x, txt_y, series) in enumerate(PANELS):
    r, c = divmod(k, 3)
    ax = fig.add_axes([LEFTS[c], BOTTOMS[r], WIDTHS[c], HEIGHTS[r]])
    for vals, cname in series:
        assert len(vals) in (25, 49), (title, len(vals))
        xs = HOURS_1H if len(vals) == 49 else HOURS_2H
        ax.plot(xs, vals, color=PALETTE[cname], lw=1.0, zorder=2)
    ax.axvline(SPLIT_HOUR, color='#3d3d3d', lw=2.3, ls=(0, (3.3, 1.4)), zorder=4)
    ax.set_xlim(0, 48)
    ax.set_ylim(*ylim)
    ax.set_xticks(TICK_HOURS)
    ax.set_xticklabels(TICK_LABELS)
    ax.set_yticks(yticks)
    ax.set_yticklabels([str(v) for v in yticks])
    ax.grid(True, color='#e2e2e2', lw=0.8, zorder=0)
    ax.set_axisbelow(True)
    for sp in ax.spines.values():
        sp.set_color('#262626')
        sp.set_linewidth(0.8)
    ax.tick_params(direction='in', length=4, width=0.8, top=True, right=True,
                   labelsize=13.5, colors='#262626')
    ax.tick_params(axis='x', pad=6)
    ax.tick_params(axis='y', pad=4)
    ax.set_title(title, fontsize=14, color='#111111', pad=4)
    ax.set_ylabel("[cm]", fontsize=16, color='#262626')
    ax.yaxis.set_label_coords(ylab_x, 0.5)
    ax.text(0.295, txt_y, "Observations", transform=ax.transAxes, ha='center', va='center',
            fontsize=14.5, color='#000000', zorder=5)
    ax.text(0.764, txt_y, "Predictions", transform=ax.transAxes, ha='center', va='center',
            fontsize=14.5, color='#000000', zorder=5)

fig.savefig("out.png", dpi=100)
